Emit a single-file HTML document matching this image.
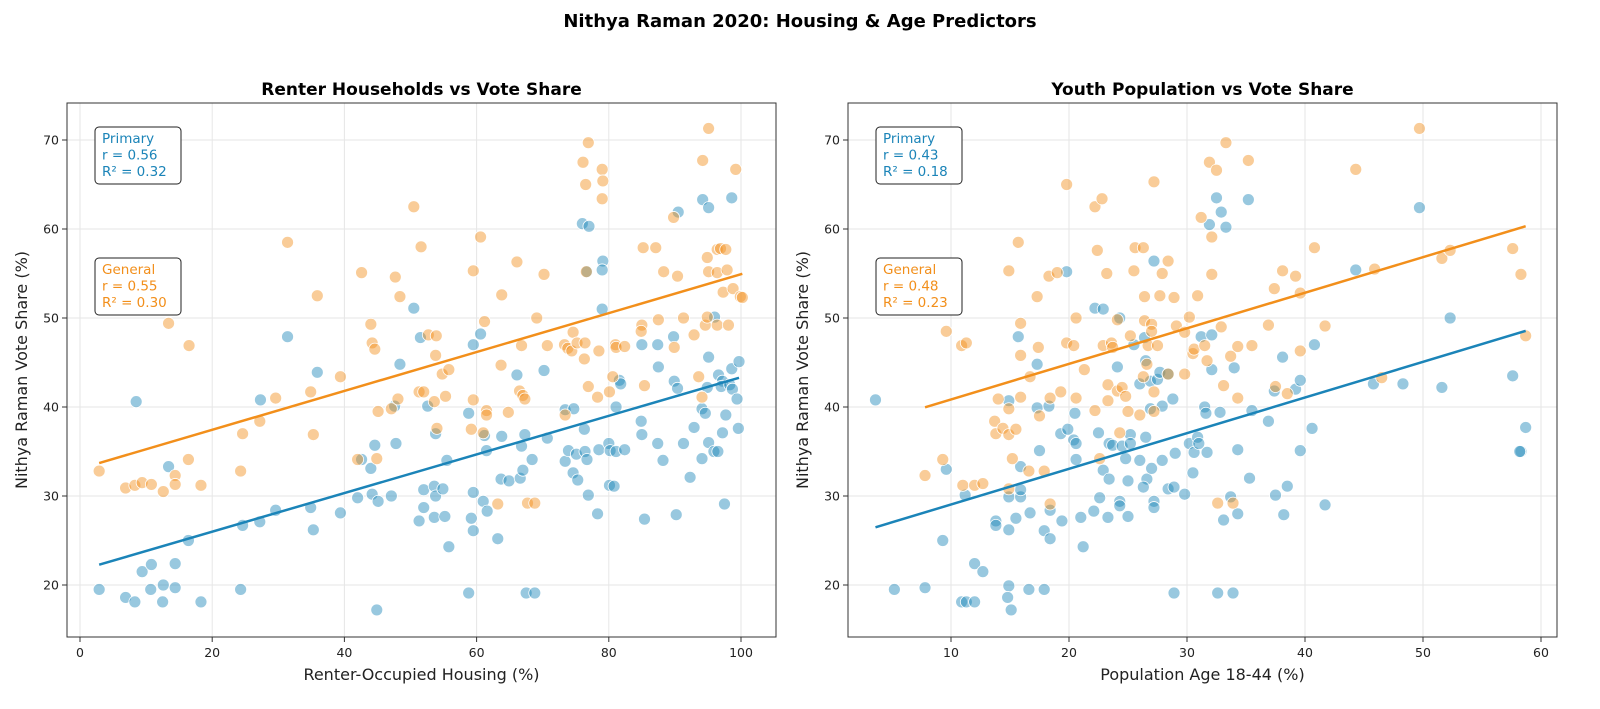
<!DOCTYPE html>
<html><head><meta charset="utf-8">
<style>
body{margin:0;background:#fff;}
svg{display:block;font-family:"DejaVu Sans","Liberation Sans",sans-serif;}
</style></head>
<body>
<svg id="chart" width="1600" height="709" viewBox="0 0 1600 709" xmlns="http://www.w3.org/2000/svg">
<rect width="1600" height="709" fill="#fff"/>
<text x="800" y="27" text-anchor="middle" font-size="18" font-weight="bold">Nithya Raman 2020: Housing &amp; Age Predictors</text>
<g id="p1"></g>
<g id="p2"></g>
</svg>
<script>
// ---- Data: left panel (renter-occupied %, vote share %) ----
const renterPrimX=[2.9,6.9,8.3,8.5,9.4,10.8,10.7,12.6,12.5,13.4,14.4,14.4,16.4,18.3,24.3,24.6,27.2,27.3,29.6,31.4,34.9,35.3,35.9,39.4,42.0,42.6,44.0,44.2,44.6,44.9,45.1,47.1,47.6,47.8,48.4,50.5,51.3,51.5,52.0,52.0,52.6,53.6,53.8,53.6,53.8,55.2,54.9,55.5,55.8,58.8,59.5,59.5,58.8,59.2,59.5,60.6,61.0,61.2,61.5,61.6,63.2,63.7,63.8,64.9,66.1,66.6,66.8,67.0,67.3,67.5,68.8,68.4,70.2,70.7,73.4,74.7,73.4,73.9,74.6,75.1,75.3,76.0,77.0,76.3,76.4,76.7,76.9,76.7,78.3,78.5,79.1,79.0,79.0,80.0,80.2,81.1,80.1,80.8,81.1,81.6,81.8,82.4,85.0,84.9,85.0,85.4,87.4,87.5,87.4,88.2,89.8,89.9,90.4,90.5,90.2,91.3,92.3,92.9,94.2,95.1,94.1,94.6,94.1,95.1,95.1,94.9,96.0,96.6,97.2,97.0,98.3,98.7,95.9,96.5,97.2,97.7,97.5,98.6,98.6,99.7,99.4,99.6];
const renterPrimY=[19.5,18.6,18.1,40.6,21.5,22.3,19.5,20.0,18.1,33.3,22.4,19.7,25.0,18.1,19.5,26.7,27.1,40.8,28.4,47.9,28.7,26.2,43.9,28.1,29.8,34.1,33.1,30.2,35.7,17.2,29.4,30.0,40.1,35.9,44.8,51.1,27.2,47.8,28.7,30.7,40.1,31.1,30.0,27.6,37.0,27.7,30.8,34.0,24.3,39.3,47.0,30.4,19.1,27.5,26.1,48.2,29.4,36.8,35.1,28.3,25.2,31.9,36.7,31.7,43.6,32.0,35.6,32.9,36.9,19.1,19.1,34.1,44.1,36.5,39.7,39.8,33.9,35.1,32.6,34.7,31.8,60.6,60.3,37.5,35.0,34.1,30.1,55.2,28.0,35.2,56.4,55.4,51.0,35.9,35.1,35.0,31.2,31.1,40.0,43.0,42.6,35.2,47.0,38.4,36.9,27.4,47.0,44.5,35.9,34.0,47.9,42.9,42.1,61.9,27.9,35.9,32.1,37.7,63.3,62.4,39.8,39.3,34.2,36.0,45.6,42.2,50.1,43.6,42.9,42.3,42.5,42.0,35.0,35.0,37.1,39.1,29.1,63.5,44.3,45.1,40.9,37.6];
const renterGenX=[2.9,6.9,8.3,9.4,10.8,12.6,13.4,14.4,14.4,16.4,16.5,18.3,24.3,24.6,27.2,29.6,31.4,34.9,35.3,35.9,39.4,42.0,42.6,44.0,44.2,44.6,44.9,45.1,47.1,47.7,48.1,48.4,50.5,51.6,51.3,52.0,52.7,53.9,53.8,53.6,54.0,54.8,55.3,55.8,59.2,59.5,59.5,60.6,61.2,61.0,61.5,61.5,63.2,63.7,63.8,64.8,66.1,66.5,66.8,67.0,67.3,67.7,68.8,69.1,70.2,70.7,73.3,73.4,73.8,74.4,74.6,75.2,76.1,76.5,76.9,76.4,76.3,76.6,76.9,78.3,78.5,79.0,79.1,79.0,80.1,80.6,81.0,81.1,82.4,85.0,84.9,85.2,85.4,87.1,87.5,88.3,89.8,89.9,90.4,91.3,92.9,93.6,94.1,94.2,95.1,94.6,94.9,94.9,95.1,96.4,96.4,96.4,96.9,97.7,97.3,97.9,98.1,98.8,99.2,99.9,100.2];
const renterGenY=[32.8,30.9,31.2,31.5,31.3,30.5,49.4,32.3,31.3,34.1,46.9,31.2,32.8,37.0,38.4,41.0,58.5,41.7,36.9,52.5,43.4,34.1,55.1,49.3,47.2,46.5,34.2,39.5,39.8,54.6,40.9,52.4,62.5,58.0,41.7,41.7,48.1,48.0,45.8,40.6,37.6,43.7,41.2,44.2,37.5,55.3,40.8,59.1,49.6,37.1,39.6,39.1,29.1,44.7,52.6,39.4,56.3,41.8,46.9,41.3,40.9,29.2,29.2,50.0,54.9,46.9,47.0,39.1,46.6,46.3,48.4,47.2,67.5,65.0,69.7,47.2,45.4,55.2,42.3,41.1,46.3,66.7,65.4,63.4,41.7,43.4,47.0,46.7,46.8,49.2,48.5,57.9,42.4,57.9,49.8,55.2,61.3,46.7,54.7,50.0,48.1,43.4,41.1,67.7,71.3,49.2,50.1,56.8,55.2,55.1,49.2,57.7,57.8,57.7,52.9,55.4,49.2,53.3,66.7,52.4,52.3];
// ---- Data: right panel (age 18-44 %, vote share %) ----
const youthPrimX=[3.6,5.2,7.8,9.3,9.6,11.2,10.9,11.3,12.0,12.0,12.7,13.8,13.8,14.9,14.9,14.9,14.9,14.8,15.1,15.5,15.7,15.9,15.9,15.9,16.6,16.7,17.3,17.3,17.5,17.9,17.9,18.3,18.4,18.4,19.3,19.4,19.8,19.9,20.4,20.5,20.6,20.6,21.0,21.2,22.2,22.9,22.1,22.5,22.6,23.3,23.4,23.7,22.9,23.4,24.1,24.3,24.3,24.3,24.5,24.8,25.2,25.2,25.0,25.0,25.5,26.0,26.0,26.4,26.5,26.5,26.6,27.0,26.9,27.2,27.2,27.2,26.3,26.9,27.5,27.7,27.9,27.9,28.4,28.4,28.8,28.9,29.0,28.9,29.8,30.2,30.6,30.9,31.0,30.5,31.5,31.6,31.7,31.2,32.1,32.1,31.9,32.5,32.9,33.3,32.8,32.6,33.9,33.1,33.7,34.3,34.0,34.3,35.2,35.3,35.5,36.9,37.4,37.5,38.1,38.2,38.5,39.2,39.6,39.6,40.6,40.8,41.7,44.3,45.8,48.3,49.7,51.6,52.3,57.6,58.3,58.2,58.7];
const youthPrimY=[40.8,19.5,19.7,25.0,33.0,30.1,18.1,18.1,18.1,22.4,21.5,27.2,26.7,40.7,29.9,26.2,19.9,18.6,17.2,27.5,47.9,33.3,29.9,30.7,19.5,28.1,39.9,44.8,35.1,26.1,19.5,40.1,28.4,25.2,37.0,27.2,55.2,37.5,36.3,39.3,35.9,34.1,27.6,24.3,51.1,51.0,28.3,37.1,29.8,27.6,35.9,35.7,32.9,31.9,44.5,50.0,29.4,28.9,35.6,34.2,36.9,35.9,27.7,31.7,47.0,42.6,34.0,47.8,45.2,36.6,31.9,33.1,42.9,56.4,29.4,28.7,31.0,39.8,43.1,43.9,40.1,34.0,43.7,30.8,40.9,31.0,34.8,19.1,30.2,35.9,34.9,36.6,35.9,32.6,40.0,39.3,34.9,47.9,48.1,44.2,60.5,63.5,61.9,60.2,39.4,19.1,19.1,27.3,29.9,28.0,44.4,35.2,63.3,32.0,39.6,38.4,41.8,30.1,45.6,27.9,31.1,42.0,43.0,35.1,37.6,47.0,29.0,55.4,42.6,42.6,62.4,42.2,50.0,43.5,35.0,35.0,37.7];
const youthGenX=[7.8,9.3,9.6,10.9,11.3,11.0,12.0,12.7,13.7,13.8,14.0,14.4,14.9,15.5,14.9,14.9,14.9,15.2,15.7,15.9,15.9,15.9,16.6,16.7,17.3,17.4,17.5,17.9,18.3,19.0,18.4,18.4,19.3,19.8,19.8,20.4,20.6,20.6,21.3,22.2,22.8,22.4,22.2,22.6,22.9,23.2,23.3,23.3,23.6,23.7,24.1,24.1,24.3,24.5,24.8,25.0,25.2,25.5,25.6,26.3,26.0,26.3,26.4,26.4,26.6,26.7,27.0,27.0,27.2,27.2,27.2,27.5,27.7,27.9,28.4,28.4,28.9,29.1,29.8,30.2,29.8,30.5,30.6,30.9,31.2,31.5,31.7,31.9,32.1,32.1,32.5,32.6,32.9,33.3,33.1,33.7,33.9,34.3,34.3,35.2,35.5,36.9,37.4,37.5,38.1,38.5,39.2,39.6,39.6,40.8,41.7,44.3,45.9,46.5,49.7,51.6,52.3,57.6,58.3,58.7];
const youthGenY=[32.3,34.1,48.5,46.9,47.2,31.2,31.2,31.4,38.4,37.0,40.9,37.6,36.9,37.5,55.3,39.8,30.8,34.2,58.5,49.4,45.8,41.1,32.8,43.4,52.4,46.7,39.0,32.8,54.7,55.1,41.0,29.1,41.7,65.0,47.2,46.9,41.0,50.0,44.2,62.5,63.4,57.6,39.6,34.2,46.9,55.0,42.5,40.7,47.2,46.7,41.8,49.8,37.1,42.2,41.2,39.5,48.0,55.3,57.9,57.9,39.1,43.4,52.4,49.7,44.8,46.9,49.3,48.5,65.3,41.7,39.5,46.9,52.5,55.0,56.4,43.7,52.3,49.1,43.7,50.1,48.4,46.0,46.5,52.5,61.3,46.9,45.2,67.5,59.1,54.9,66.6,29.2,49.0,69.7,42.4,45.7,29.2,46.8,41.0,67.7,46.9,49.2,53.3,42.3,55.3,41.5,54.7,52.8,46.3,57.9,49.1,66.7,55.5,43.3,71.3,56.7,57.6,57.8,54.9,48.0];
const yTicks=[20,30,40,50,60,70];
const renterTicks=[0,20,40,60,80,100];
const youthTicks=[10,20,30,40,50,60];

const NS="http://www.w3.org/2000/svg";
const BLUE="#1b84b8", ORANGE="#f28f1b";
function mk(tag,attrs,parent){const e=document.createElementNS(NS,tag);for(const k in attrs)e.setAttribute(k,attrs[k]);parent.appendChild(e);return e;}
function fit(xs,ys){const n=xs.length;let mx=0,my=0;for(let i=0;i<n;i++){mx+=xs[i];my+=ys[i];}mx/=n;my/=n;let sxy=0,sxx=0;for(let i=0;i<n;i++){sxy+=(xs[i]-mx)*(ys[i]-my);sxx+=(xs[i]-mx)**2;}const b=sxy/sxx;return {b:b,a:my-b*mx};}

function panel(g,cfg){
  const L=cfg.left,R=cfg.right,T=103,B=637;
  const sx=v=>cfg.x0px+(v-cfg.x0)*cfg.xs;
  const sy=v=>140+(70-v)*8.9;
  yTicks.forEach(t=>{const l=mk('line',{x1:L,x2:R,y1:sy(t),y2:sy(t),stroke:'#e6e6e6','stroke-width':1},g);
    
    });
  cfg.ticks.forEach(t=>{const l=mk('line',{x1:sx(t),x2:sx(t),y1:T,y2:B,stroke:'#e6e6e6','stroke-width':1},g);
    
    });
  [[cfg.px,cfg.py,BLUE,'primary'],[cfg.gx,cfg.gy,ORANGE,'general']].forEach(s=>{
    const xs=s[0],ys=s[1];
    for(let i=0;i<xs.length;i++){
      const c=mk('circle',{cx:sx(xs[i]),cy:sy(ys[i]),r:6,fill:s[2],'fill-opacity':0.45,stroke:'#fff','stroke-width':0.8},g);
      
      
    }
  });
  [[cfg.px,cfg.py,BLUE,'primary'],[cfg.gx,cfg.gy,ORANGE,'general']].forEach(s=>{
    const f=fit(s[0],s[1]);const mn=Math.min(...s[0]),mx=Math.max(...s[0]);
    const l=mk('line',{x1:sx(mn),y1:sy(f.a+f.b*mn),x2:sx(mx),y2:sy(f.a+f.b*mx),stroke:s[2],'stroke-width':2.5},g);
    
    
  });
  const fr=mk('rect',{x:L,y:T,width:R-L,height:B-T,fill:'none',stroke:'#333','stroke-width':1},g);
  
  
  yTicks.forEach(t=>{mk('line',{x1:L-5,x2:L,y1:sy(t),y2:sy(t),stroke:'#333'},g);
    const tx=mk('text',{x:L-8,y:sy(t)+4.5,'text-anchor':'end','font-size':12.5,fill:'#222'},g);tx.textContent=t;
    
    });
  cfg.ticks.forEach(t=>{mk('line',{x1:sx(t),x2:sx(t),y1:B,y2:B+5,stroke:'#333'},g);
    const tx=mk('text',{x:sx(t),y:B+20,'text-anchor':'middle','font-size':12.5,fill:'#222'},g);tx.textContent=t;
    
    });
  const ti=mk('text',{x:(L+R)/2,y:95,'text-anchor':'middle','font-size':17,'font-weight':'bold'},g);ti.textContent=cfg.title;
  
  
  const xl=mk('text',{x:(L+R)/2,y:680,'text-anchor':'middle','font-size':16,fill:'#222'},g);xl.textContent=cfg.xlabel;
  
  
  const yl=mk('text',{x:0,y:0,'text-anchor':'middle','font-size':16,fill:'#222',transform:`translate(${L-40},370) rotate(-90)`},g);yl.textContent='Nithya Raman Vote Share (%)';
  
  
  [[cfg.pStats,BLUE,127,'Primary','primary-stats-box'],[cfg.gStats,ORANGE,258,'General','general-stats-box']].forEach(b=>{
    const bx=L+28;
    const r=mk('rect',{x:bx,y:b[2],width:86,height:57,rx:4,fill:'#fff',stroke:'#222','stroke-width':1},g);
    
    
    const lines=[b[3],'r = '+b[0][0],'R\u00b2 = '+b[0][1]];
    lines.forEach((s,i)=>{const t=mk('text',{x:bx+7,y:b[2]+16+i*16.5,'font-size':13.5,fill:b[1]},g);t.textContent=s;
      
      });
  });
}
panel(document.getElementById('p1'),{left:67,right:776,x0:0,x0px:80,xs:6.61,ticks:renterTicks,px:renterPrimX,py:renterPrimY,gx:renterGenX,gy:renterGenY,title:'Renter Households vs Vote Share',xlabel:'Renter-Occupied Housing (%)',pStats:['0.56','0.32'],gStats:['0.55','0.30']});
panel(document.getElementById('p2'),{left:848,right:1557,x0:10,x0px:951,xs:11.8,ticks:youthTicks,px:youthPrimX,py:youthPrimY,gx:youthGenX,gy:youthGenY,title:'Youth Population vs Vote Share',xlabel:'Population Age 18-44 (%)',pStats:['0.43','0.18'],gStats:['0.48','0.23']});
</script>
</body></html>
